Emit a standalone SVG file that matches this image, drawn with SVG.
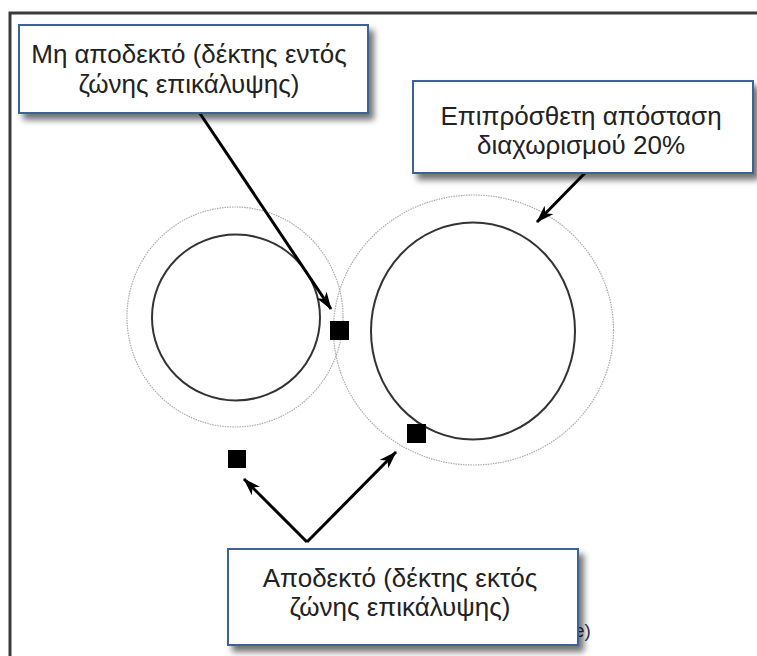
<svg xmlns="http://www.w3.org/2000/svg" width="757" height="656" viewBox="0 0 757 656">
<style>
.box{fill:#fff;stroke:#3e6294;stroke-width:2;filter:url(#sh)}
.t{font-family:"Liberation Sans",Arial,sans-serif;font-size:26px;fill:#222;text-anchor:middle}
.inner{fill:none;stroke:#333;stroke-width:2}
.outer{fill:none;stroke:#aaa;stroke-width:1.2;stroke-dasharray:1.5 1}
.arr{fill:none;stroke:#000;stroke-width:3;marker-end:url(#ah)}
.rx{fill:#000}
</style>
<defs>
<filter id="sh" x="-10%" y="-20%" width="130%" height="150%">
<feDropShadow dx="5" dy="6" stdDeviation="3" flood-color="#000" flood-opacity="0.55"/>
</filter>
<marker id="ah" viewBox="0 0 18 12" refX="17" refY="6" markerWidth="18" markerHeight="12" markerUnits="userSpaceOnUse" orient="auto">
<path d="M0,0 L18,6 L0,12 L5,6 Z" fill="#000"/>
</marker>
</defs>
<rect width="757" height="656" fill="#fff"/>
<g id="frame">
<path d="M10,656 L10,13 L757,13" fill="none" stroke="#3a3a3a" stroke-width="3"/>
</g>
<g id="zones">
<ellipse class="outer" cx="235" cy="317" rx="108" ry="110"/>
<ellipse class="inner" cx="236" cy="317.5" rx="84" ry="83"/>
<ellipse class="outer" cx="473.5" cy="330" rx="140" ry="135"/>
<ellipse class="inner" cx="473" cy="331" rx="102" ry="108.5"/>
</g>
<g id="receivers">
<rect class="rx" x="330" y="321" width="19" height="19"/>
<rect class="rx" x="407" y="424" width="19" height="19"/>
<rect class="rx" x="228" y="450" width="18" height="18"/>
</g>
<g id="connectors">
<path class="arr" d="M199,112 L331,309"/>
<path class="arr" d="M585,173 L537,222"/>
<path class="arr" d="M307,542 L244,479"/>
<path class="arr" d="M307,542 L396,452"/>
</g>
<text x="574" y="637" font-family="Liberation Sans,Arial,sans-serif" font-size="19" fill="#334">e)</text>
<g id="label-not-acceptable">
<rect class="box" x="19" y="25" width="349" height="88"/>
<text class="t" x="189" y="63">Μη αποδεκτό (δέκτης εντός</text>
<text class="t" x="189" y="93">ζώνης επικάλυψης)</text>
</g>
<g id="label-separation">
<rect class="box" x="413" y="81" width="340" height="92"/>
<text class="t" x="581" y="125">Επιπρόσθετη απόσταση</text>
<text class="t" x="581" y="154">διαχωρισμού 20%</text>
</g>
<g id="label-acceptable">
<rect class="box" x="228" y="549" width="350" height="96"/>
<text class="t" x="400" y="587">Αποδεκτό (δέκτης εκτός</text>
<text class="t" x="400" y="616">ζώνης επικάλυψης)</text>
</g>
</svg>
